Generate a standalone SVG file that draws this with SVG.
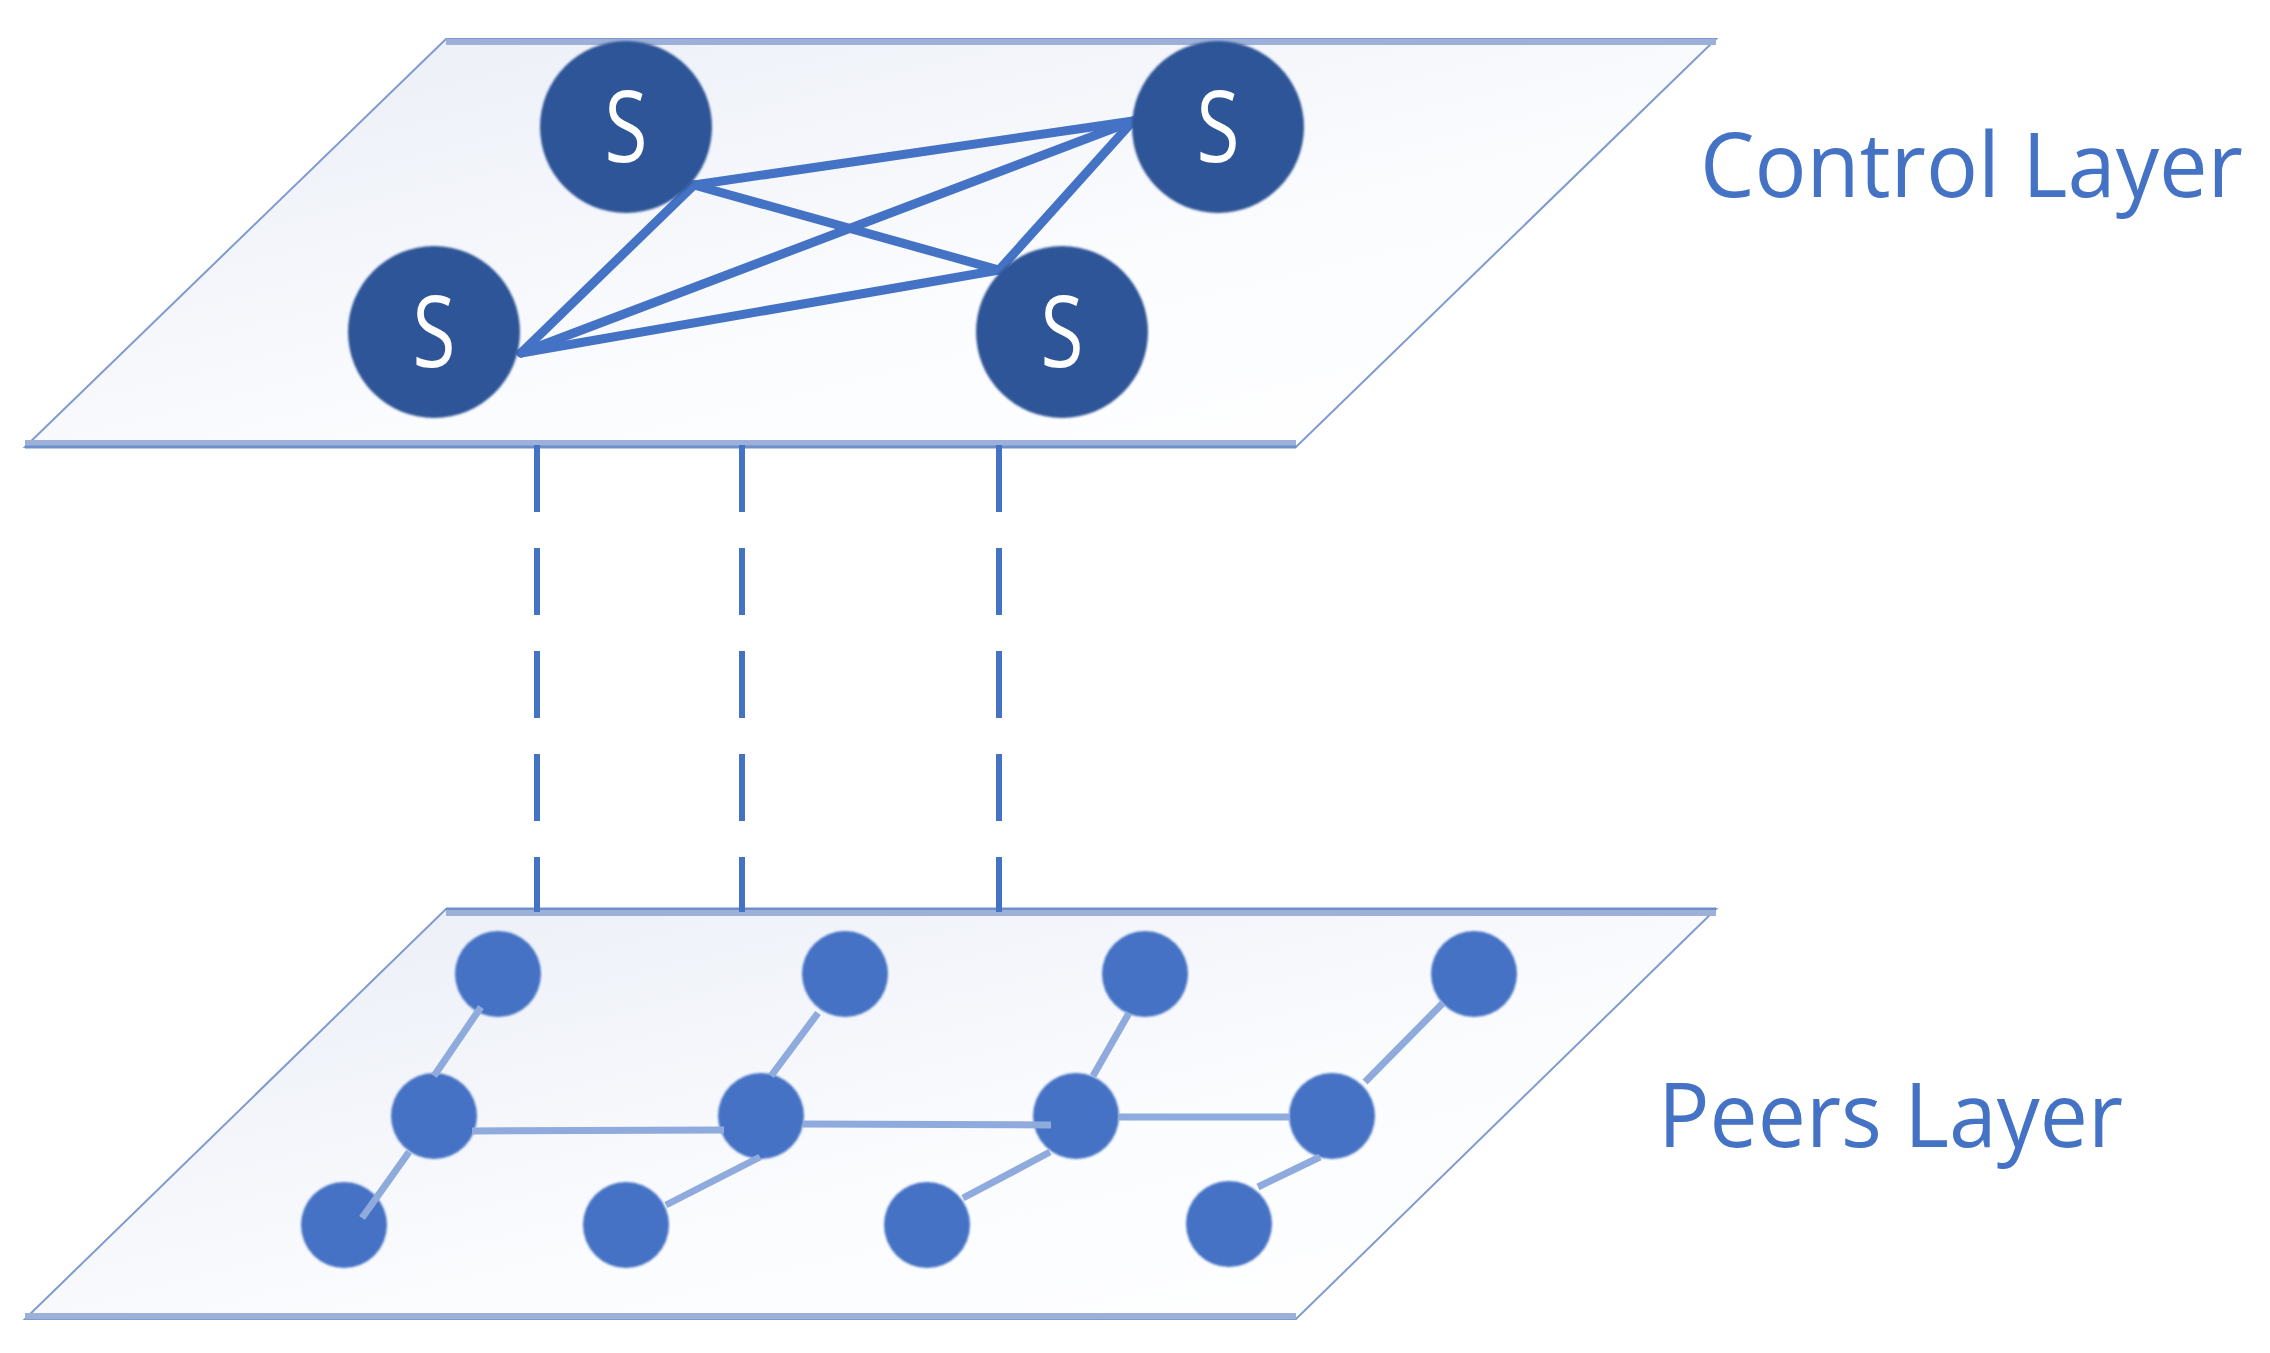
<svg xmlns="http://www.w3.org/2000/svg" width="2270" height="1353" viewBox="0 0 2270 1353">
<defs>
<linearGradient id="plane" x1="0" y1="0" x2="1" y2="1">
<stop offset="0" stop-color="#E9EDF6"/>
<stop offset="0.6" stop-color="#FBFCFE"/>
<stop offset="1" stop-color="#FFFFFF"/>
</linearGradient>
<filter id="soft" x="-10%" y="-10%" width="120%" height="120%"><feGaussianBlur stdDeviation="1.2"/></filter>
</defs>
<style>
.plane{fill:url(#plane);stroke:#7F9BD0;stroke-width:2}
.band{stroke:#9CB0D8;stroke-width:6;fill:none}
.edge{stroke:#6E8FCB;stroke-width:3;fill:none}
.srv{fill:#2F5597;filter:url(#soft)}
.peer{fill:#4472C4;filter:url(#soft)}
.slbl{font-family:"Open Sans","Noto Sans",sans-serif;font-size:98px;fill:#FFFFFF;text-anchor:middle}
.lay{font-family:"Open Sans","Noto Sans",sans-serif;font-size:90px;fill:#4472C4}
.cl{stroke:#4472C4;stroke-width:9;stroke-linecap:round;fill:none}
.pl{stroke:#8FAADC;stroke-width:7;fill:none}
.dash{stroke:#4472C4;stroke-width:6;stroke-dasharray:67 36;fill:none}
</style>
<g id="control-plane">
<polygon class="plane" points="446,39 1716,39 1296,447 25,447"/>
<line class="band" x1="446" y1="42" x2="1716" y2="42"/>
<line class="band" x1="25" y1="443" x2="1296" y2="443" stroke="#BFCDE8"/>
<line class="edge" x1="25" y1="447" x2="1296" y2="447"/>
</g>
<g id="peers-plane">
<polygon class="plane" points="446,909 1716,909 1296,1319 25,1319"/>
<line class="edge" x1="446" y1="909" x2="1716" y2="909"/>
<line class="band" x1="446" y1="913" x2="1716" y2="913" stroke="#C9D5EC"/>
<line class="band" x1="25" y1="1316" x2="1296" y2="1316"/>
</g>
<g id="connectors">
<line class="cl" x1="694" y1="185" x2="1133" y2="121"/>
<line class="cl" x1="694" y1="185" x2="999" y2="270"/>
<line class="cl" x1="694" y1="185" x2="521" y2="353"/>
<line class="cl" x1="521" y1="353" x2="1133" y2="121"/>
<line class="cl" x1="521" y1="353" x2="999" y2="270"/>
<line class="cl" x1="999" y1="270" x2="1133" y2="121"/>
<line class="dash" x1="537" y1="445" x2="537" y2="912"/>
<line class="dash" x1="742" y1="445" x2="742" y2="912"/>
<line class="dash" x1="999" y1="445" x2="999" y2="912"/>
</g>
<g id="S1"><circle class="srv" cx="626" cy="127" r="86"/><text class="slbl" transform="translate(626,162) scale(0.8,1)">S</text></g>
<g id="S2"><circle class="srv" cx="1218" cy="127" r="86"/><text class="slbl" transform="translate(1218,162) scale(0.8,1)">S</text></g>
<g id="S3"><circle class="srv" cx="434" cy="332" r="86"/><text class="slbl" transform="translate(434,367) scale(0.8,1)">S</text></g>
<g id="S4"><circle class="srv" cx="1062" cy="332" r="86"/><text class="slbl" transform="translate(1062,367) scale(0.8,1)">S</text></g>
<g id="P-top1"><circle class="peer" cx="498" cy="974" r="43"/></g>
<g id="P-top2"><circle class="peer" cx="845" cy="974" r="43"/></g>
<g id="P-top3"><circle class="peer" cx="1145" cy="974" r="43"/></g>
<g id="P-top4"><circle class="peer" cx="1474" cy="974" r="43"/></g>
<g id="P-mid1"><circle class="peer" cx="434" cy="1116" r="43"/></g>
<g id="P-mid2"><circle class="peer" cx="761" cy="1116" r="43"/></g>
<g id="P-mid3"><circle class="peer" cx="1076" cy="1116" r="43"/></g>
<g id="P-mid4"><circle class="peer" cx="1332" cy="1116" r="43"/></g>
<g id="P-bot1"><circle class="peer" cx="344" cy="1225" r="43"/></g>
<g id="P-bot2"><circle class="peer" cx="626" cy="1225" r="43"/></g>
<g id="P-bot3"><circle class="peer" cx="927" cy="1225" r="43"/></g>
<g id="P-bot4"><circle class="peer" cx="1229" cy="1224" r="43"/></g>
<g id="peer-links">
<line class="pl" x1="481" y1="1007" x2="434" y2="1076"/>
<line class="pl" x1="409" y1="1152" x2="362" y2="1218"/>
<line class="pl" x1="472" y1="1131" x2="724" y2="1130"/>
<line class="pl" x1="818" y1="1013" x2="771" y2="1076"/>
<line class="pl" x1="760" y1="1157" x2="666" y2="1205"/>
<line class="pl" x1="803" y1="1124" x2="1051" y2="1125"/>
<line class="pl" x1="1129" y1="1013" x2="1093" y2="1076"/>
<line class="pl" x1="1050" y1="1152" x2="963" y2="1198"/>
<line class="pl" x1="1118" y1="1117" x2="1290" y2="1117"/>
<line class="pl" x1="1443" y1="1003" x2="1365" y2="1082"/>
<line class="pl" x1="1320" y1="1157" x2="1258" y2="1187"/>
</g>
<g id="labels">
<text class="lay" x="1700" y="197" textLength="543" lengthAdjust="spacingAndGlyphs">Control Layer</text>
<text class="lay" x="1658" y="1147" textLength="465" lengthAdjust="spacingAndGlyphs">Peers Layer</text>
</g>
</svg>
